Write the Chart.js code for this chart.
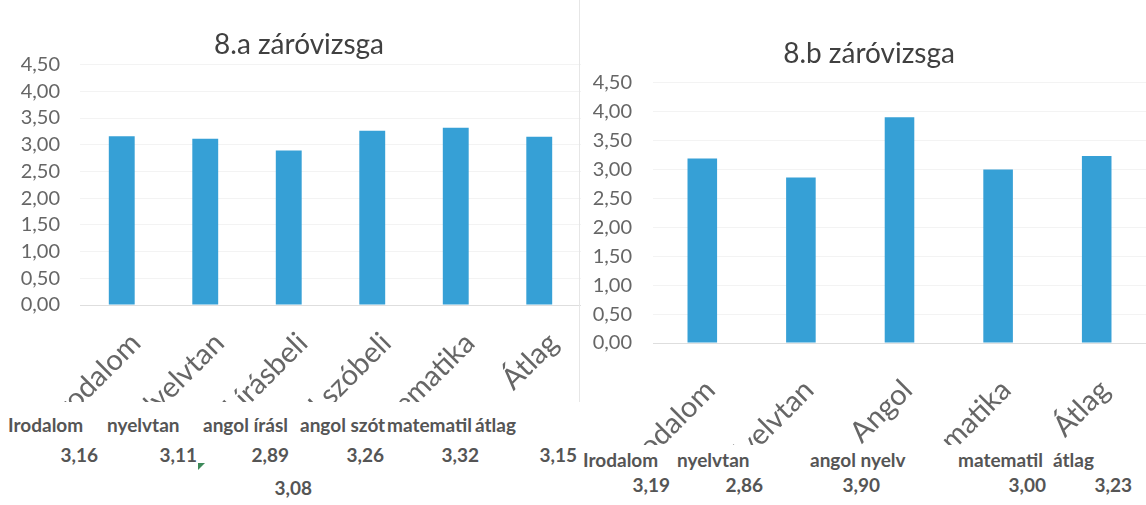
<!DOCTYPE html>
<html lang="hu">
<head>
<meta charset="utf-8">
<script src="https://cdn.jsdelivr.net/npm/chart.js@4.4.1/dist/chart.umd.min.js"></script>
<style>
  body { margin: 0; background: #fff; font-family: Lato, sans-serif; }
  #lap { position: relative; width: 1146px; height: 505px; overflow: hidden; background: #fff; }
  canvas { position: absolute; top: 0; }
  #grafA { left: 0; }
  #grafB { left: 580px; }
  .tabla { position: absolute; background: #fff; }
  #tablaA { left: 0; top: 402px; width: 580px; height: 103px; }
  #tablaB { left: 580px; top: 445px; width: 566px; height: 60px; }
  .cella { position: absolute; font: bold 19px Lato, sans-serif; color: #555; white-space: nowrap; line-height: 24px; }
  #valaszto { position: absolute; left: 579px; top: 0; width: 1px; height: 460px; background: #e6e6e6; }
  .hiba { position: absolute; width: 0; height: 0; border-top: 7px solid #3d8a5a; border-right: 7px solid transparent; }
</style>
</head>
<body>
<div id="lap">
  <canvas id="grafA" width="581" height="420"></canvas>
  <canvas id="grafB" width="566" height="460"></canvas>
  <div id="valaszto"></div>
  <div class="tabla" id="tablaA"></div>
  <div class="tabla" id="tablaB"></div>
</div>
<script>
// 8.a osztály
const kategoriakA = ['Irodalom', 'Nyelvtan', 'Angol írásbeli', 'Angol szóbeli', 'Matematika', 'Átlag'];
const atlagokA = [3.16, 3.11, 2.89, 3.26, 3.32, 3.15];
const fejlecA = ['Irodalom', 'nyelvtan', 'angol írásl', 'angol szót', 'matematil', 'átlag'];
const kulonCellaA = 3.08;

// 8.b osztály
const kategoriakB = ['Irodalom', 'Nyelvtan', 'Angol', 'Matematika', 'Átlag'];
const atlagokB = [3.19, 2.86, 3.90, 3.00, 3.23];
const fejlecB = ['Irodalom', 'nyelvtan', 'angol nyelv', 'matematil', 'átlag'];

const yErtekek = [0, 0.5, 1, 1.5, 2, 2.5, 3, 3.5, 4, 4.5];

// cellák helye a táblázatban (x)
const fejlecXA = [8, 107, 203, 300, 387, 475];
const ertekJobbA = [98, 197, 289, 384, 479, 577];
const fejlecXB = [3, 97, 230, 378, 473];
const ertekJobbB = [90, 183, 300, 466, 552];

const kek = '#36a0d6';
const szurke = '#666666';

function szam(v) {
    return v.toFixed(2).replace('.', ',');
}

function grafikon(id, cim, kategoriak, adatok, beall) {
    new Chart(document.getElementById(id), {
        type: 'bar',
        data: {
            labels: kategoriak,
            datasets: [{
                data: adatok,
                backgroundColor: kek,
                barPercentage: beall.oszlop,
                categoryPercentage: 1
            }]
        },
        options: {
            responsive: false,
            animation: false,
            devicePixelRatio: 1,
            layout: { padding: { left: beall.balPad, right: 0, top: 0, bottom: 0 } },
            plugins: {
                legend: { display: false },
                tooltip: { enabled: false },
                title: {
                    display: true,
                    text: cim,
                    color: '#404040',
                    font: { family: 'Lato', size: 28, weight: 'normal' },
                    padding: { top: beall.cimFel, bottom: beall.cimLe }
                }
            },
            scales: {
                x: {
                    grid: { display: false },
                    border: { display: false },
                    ticks: {
                        color: szurke,
                        font: { family: 'Lato', size: 29 },
                        minRotation: 45,
                        maxRotation: 45,
                        autoSkip: false,
                        padding: beall.xPad,
                        labelOffset: beall.xEltol
                    },
                    afterFit: s => { s.height = beall.xMagas; }
                },
                y: {
                    min: 0,
                    max: 4.5,
                    border: { display: false },
                    grid: {
                        drawTicks: false,
                        color: c => c.tick.value === 0 ? '#dedede' : '#f3f3f3'
                    },
                    afterBuildTicks: s => { s.ticks = yErtekek.map(v => ({ value: v })); },
                    ticks: {
                        color: szurke,
                        font: { family: 'Lato', size: 20 },
                        padding: beall.yPad,
                        autoSkip: false,
                        callback: v => szam(v)
                    },
                    afterFit: s => { s.width = beall.ySzel; }
                }
            }
        }
    });
}

grafikon('grafA', '8.a záróvizsga', kategoriakA, atlagokA,
    { oszlop: 0.31, balPad: 17, cimFel: 28, cimLe: 3, xPad: 13, xEltol: 14, xMagas: 115, yPad: 20, ySzel: 63 });
grafikon('grafB', '8.b záróvizsga', kategoriakB, atlagokB,
    { oszlop: 0.30, balPad: 12, cimFel: 37, cimLe: 12, xPad: 22, xEltol: 8, xMagas: 117, yPad: 21, ySzel: 61 });

function cella(szulo, szoveg, x, y, jobbra) {
    const d = document.createElement('div');
    d.className = 'cella';
    d.textContent = szoveg;
    d.style.top = y + 'px';
    if (jobbra) d.style.right = (szulo.clientWidth - x) + 'px';
    else d.style.left = x + 'px';
    szulo.appendChild(d);
}

const tA = document.getElementById('tablaA');
fejlecA.forEach((f, i) => cella(tA, f, fejlecXA[i], 11, false));
atlagokA.forEach((v, i) => cella(tA, szam(v), ertekJobbA[i], 41, true));
cella(tA, szam(kulonCellaA), 312, 74, true);
const hiba = document.createElement('div');
hiba.className = 'hiba';
hiba.style.left = '198px';
hiba.style.top = '61px';
tA.appendChild(hiba);

const tB = document.getElementById('tablaB');
fejlecB.forEach((f, i) => cella(tB, f, fejlecXB[i], 3, false));
atlagokB.forEach((v, i) => cella(tB, szam(v), ertekJobbB[i], 28, true));
</script>
</body>
</html>
